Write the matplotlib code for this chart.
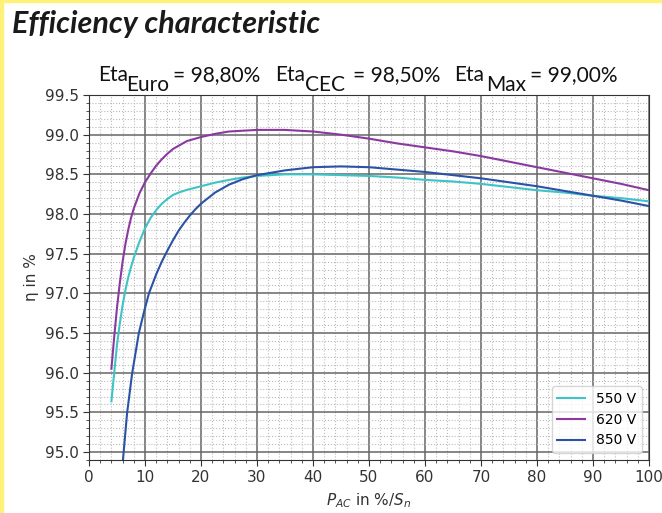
import matplotlib.pyplot as plt
from matplotlib.ticker import MultipleLocator
from matplotlib.patches import Rectangle

# values
x550 = [4, 4.5, 5, 5.5, 6, 6.5, 7, 7.5, 8, 9, 10, 11, 12, 13, 14, 15, 16, 17.5, 20, 22.5, 25,
        27.5, 30, 35, 40, 45, 50, 55, 60, 65, 70, 75, 80, 85, 90, 95, 100]
eta550 = [95.64, 96.0, 96.35, 96.62, 96.85, 97.04, 97.2, 97.33, 97.45, 97.65, 97.82, 97.95,
          98.05, 98.13, 98.19, 98.24, 98.27, 98.305, 98.35, 98.395, 98.43, 98.46, 98.48,
          98.50, 98.50, 98.49, 98.48, 98.46, 98.43, 98.41, 98.38, 98.34, 98.30, 98.27,
          98.23, 98.20, 98.16]

x620 = [4, 4.5, 5, 5.5, 6, 6.5, 7, 7.5, 8, 9, 10, 11, 12, 13, 14, 15, 17.5, 20, 22.5, 25,
        30, 35, 40, 45, 50, 55, 60, 65, 70, 75, 80, 85, 90, 95, 100]
eta620 = [96.05, 96.45, 96.82, 97.13, 97.4, 97.62, 97.8, 97.95, 98.07, 98.26, 98.4, 98.51,
          98.61, 98.69, 98.76, 98.82, 98.92, 98.97, 99.01, 99.04, 99.06, 99.06, 99.04, 99.00,
          98.95, 98.89, 98.84, 98.79, 98.73, 98.66, 98.59, 98.52, 98.45, 98.38, 98.30]

x850 = [6, 6.8, 7.7, 8.9, 9.8, 10.7, 12, 13, 14, 15, 16, 17, 18, 19, 20, 22.5, 25, 27.5, 30,
        35, 40, 45, 50, 55, 60, 65, 70, 75, 80, 85, 90, 95, 100]
eta850 = [94.85, 95.49, 95.99, 96.5, 96.76, 97.0, 97.24, 97.40, 97.54, 97.67, 97.79, 97.89,
          97.98, 98.06, 98.13, 98.27, 98.37, 98.44, 98.49, 98.55, 98.59, 98.60, 98.59, 98.56,
          98.53, 98.49, 98.45, 98.40, 98.35, 98.29, 98.23, 98.17, 98.10]

labels = ['550 V', '620 V', '850 V']
colors = ['#3ec3c7', '#8a3a9f', '#2b52a5']

fig = plt.figure(figsize=(6.62, 5.13), dpi=100)
ax = fig.add_axes([89/662, 1-460/513, 560/662, 365/513])

ax.plot(x550, eta550, color=colors[0], lw=1.5, label=labels[0])
ax.plot(x620, eta620, color=colors[1], lw=1.5, label=labels[1])
ax.plot(x850, eta850, color=colors[2], lw=1.5, label=labels[2])

ax.set_xlim(0, 100)
ax.set_ylim(94.9, 99.5)
ax.xaxis.set_major_locator(MultipleLocator(10))
ax.xaxis.set_minor_locator(MultipleLocator(2))
ax.yaxis.set_major_locator(MultipleLocator(0.5))
ax.yaxis.set_minor_locator(MultipleLocator(0.1))
ax.grid(which='major', color='#666666', lw=1.1)
ax.grid(which='minor', color='#bbbbbb', lw=0.8, ls=':')
ax.set_axisbelow(True)
ax.tick_params(which='both', direction='out', colors='#333333', labelsize=11)
ax.tick_params(which='major', length=4)
ax.tick_params(which='minor', length=2.5)
for s in ax.spines.values():
    s.set_color('#333333')

ax.set_ylabel('η in %', fontsize=11, color='#333333')
ax.set_xlabel(r'$P_{AC}$ in %/$S_n$', fontsize=11, color='#333333')

ax.legend(loc='lower right', fontsize=10, borderaxespad=0.5, handlelength=2.0)

# title and efficiency figures
fig.text(12/662, 1-33/513, 'Efficiency characteristic', family='Lato',
         weight='bold', style='italic', fontsize=22, color='#1a1a1a')
fnt = dict(family='Lato', fontsize=15, color='#111111')
parts = [(98, 81, 'Eta'), (126, 91, 'Euro'), (173, 81, '= 98,80%'),
         (275, 81, 'Eta'), (305, 91, 'CEC'), (353, 81, '= 98,50%'),
         (454, 81, 'Eta'), (486, 91, 'Max'), (530, 81, '= 99,00%')]
for px, py, t in parts:
    fig.text(px/662, 1-py/513, t, va='baseline', **fnt)

# yellow frame edge
fig.patches.append(Rectangle((0, 0), 3/662, 1, transform=fig.transFigure,
                             color='#fff27a', zorder=-1))
fig.patches.append(Rectangle((0, 1-2/513), 1, 2/513, transform=fig.transFigure,
                             color='#fff27a', zorder=-1))

fig.savefig('out.png', dpi=100)
